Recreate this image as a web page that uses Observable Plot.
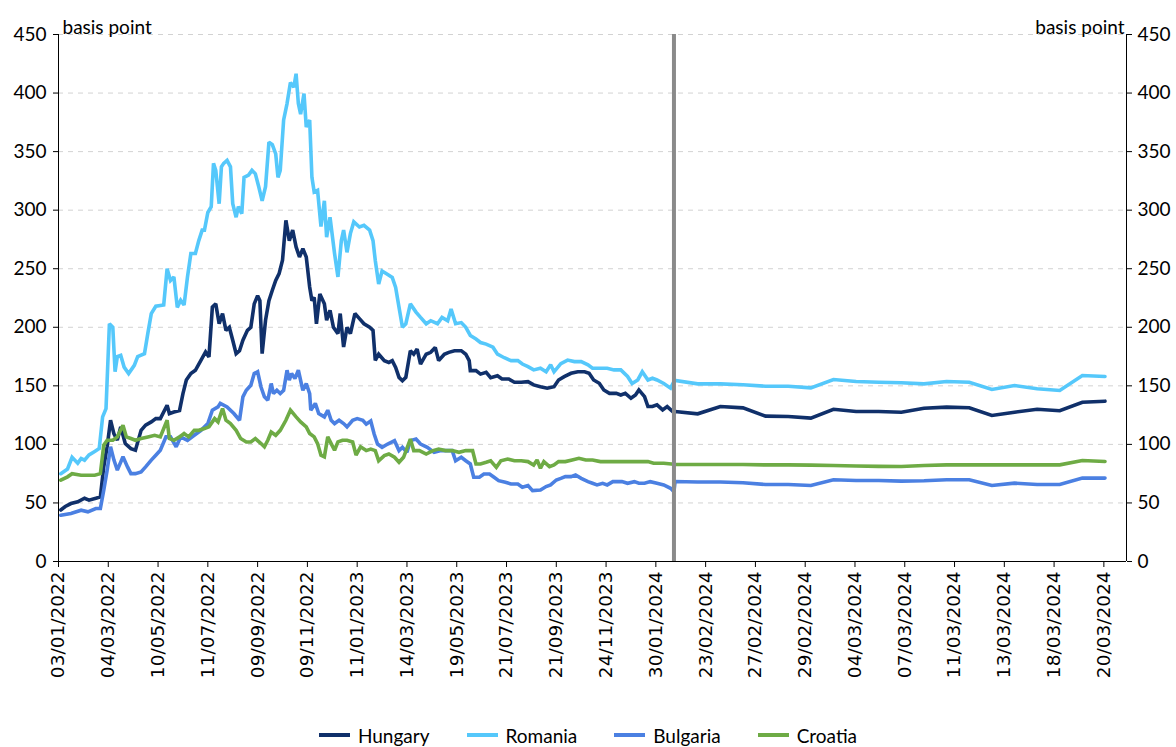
<!DOCTYPE html>
<html>
<head>
<meta charset="utf-8">
<script src="https://cdn.jsdelivr.net/npm/d3@7"></script>
<script src="https://cdn.jsdelivr.net/npm/@observablehq/plot@0.6"></script>
<style>
  html, body { margin: 0; padding: 0; background: #fff; }
  #chart { width: 1176px; }
  .legend { display: flex; justify-content: center; align-items: center; gap: 37px;
            font-family: Lato, "Open Sans", sans-serif; font-size: 19px; color: #000;
            height: 24px; padding-top: 8px; margin-left: 0px; }
  .legend .item { display: flex; align-items: center; gap: 8px; }
  .legend .sw { width: 31px; height: 4px; display: inline-block; }
</style>
</head>
<body>
<div id="chart"></div>
<script>
// ---- Series names & colours ----
const seriesNames = ["Hungary", "Romania", "Bulgaria", "Croatia"];
const seriesColors = ["#10306a", "#55c8fb", "#4b80e2", "#6eab45"];

// ---- X axis: business-day index positions of the tick labels ----
const tickDays = [0, 44, 88, 132, 176, 220, 264, 308, 352, 396, 440, 484, 528, 572, 616, 660, 704, 748, 792, 836, 880, 924];
const tickLabels = ["03/01/2022", "04/03/2022", "10/05/2022", "11/07/2022", "09/09/2022", "09/11/2022", "11/01/2023",
  "14/03/2023", "19/05/2023", "21/07/2023", "21/09/2023", "24/11/2023", "30/01/2024", "23/02/2024", "27/02/2024",
  "29/02/2024", "04/03/2024", "07/03/2024", "11/03/2024", "13/03/2024", "18/03/2024", "20/03/2024"];
const xMax = 944;
const dividerDay = 544;
const yTicks = [0, 50, 100, 150, 200, 250, 300, 350, 400, 450];

// ---- Daily history (day index, basis points) ----
const hungaryDaily = [[2,44],[6,47],[11,49.5],[17,51],[23,54],[27,52.4],[33,54],[37,55.2],[40,81],[43,98],[46,120.6],[49,109],[52,103.6],[55,115],[59,100.7],[64,96.4],[68,95],[73,112],[77,116.4],[82,119.2],[86,122],[90,122],[96,133.4],[98,126.3],[102,127.7],[107,129],[110,143.4],[113,155],[117,160.5],[121,163.3],[126,172],[130,179],[133,174.7],[136,217.3],[139,220],[142,203],[145,211.7],[148,197.4],[151,200],[154,188.9],[157,177.5],[160,180],[163,188.9],[167,197.4],[170,200],[173,220],[176,227],[178,222.7],[180,177.5],[183,206],[186,222.7],[189,231.6],[192,240],[195,245.8],[198,257.2],[201,291.3],[204,274],[207,283],[210,268.6],[213,260],[216,267],[219,260],[222,234.4],[224,222.7],[226,225.6],[228,203],[231,228.4],[235,220],[237,206],[240,214.5],[243,200],[247,194.6],[249,211.7],[252,183.2],[255,200],[258,194.6],[262,211.7],[266,207.4],[270,203],[275,200],[278,197.4],[280,171.8],[283,177],[288,171.5],[292,170],[295,171.5],[298,165.8],[301,157.2],[304,154.4],[307,157.2],[311,180],[314,177],[317,181.4],[320,168.6],[325,177],[329,178.6],[333,182.8],[336,171.5],[341,177],[345,178.6],[350,180],[356,180],[360,177],[363,171.5],[364,163],[369,163],[373,160],[378,161.5],[382,157],[388,158.6],[392,155.8],[398,155.8],[403,153],[409,153],[415,153.6],[420,150.8],[426,149.3],[432,148],[438,149.3],[442,155],[447,157.9],[453,160.7],[459,162],[465,162],[469,160.7],[473,155],[478,152.2],[482,146.5],[487,143.6],[493,143.6],[497,142.2],[501,143.6],[506,139.4],[510,142.2],[513,146.5],[518,140.8],[521,132.3],[525,132.3],[529,133.7],[534,129.4],[538,132.3],[543,128]];
const romaniaDaily = [[2,75],[8,79],[12,89],[17,84],[20,88],[23,86.5],[27,91],[32,94],[36,96.5],[39,123.5],[42,130.5],[45,203],[48,200],[50,162],[52,175],[55,176],[58,166],[62,160.5],[67,167.5],[70,175],[76,177.5],[79,195],[82,211.7],[86,218],[93,219],[96,250],[99,240],[102,243],[105,217],[108,223],[111,219],[114,243],[117,263],[121,263],[124,274],[127,283],[129,283],[132,298],[135,303],[137,340],[139,334],[142,305.5],[144,337],[146,340],[149,342.5],[152,337],[154,305.5],[157,294],[159,303],[162,297],[164,328],[168,330],[171,334],[174,331],[177,320],[180,308],[183,320],[186,358],[189,356],[192,348],[194,328],[196,334],[199,377],[202,391],[205,409],[208,405],[210,416.5],[212,391],[214,382],[217,399.5],[219,371],[222,377],[224,328],[226,315.5],[229,317],[232,286],[235,308],[237,277],[240,294],[244,263],[247,243],[250,274],[252,283],[255,264],[258,280],[261,290],[266,285.6],[270,287],[275,283],[278,274],[280,257],[283,237],[286,248],[291,245],[295,242.5],[298,234],[301,217],[304,200],[307,203],[311,220],[316,213],[320,208.4],[325,203],[329,205.6],[335,203],[339,208.4],[344,205.6],[347,215.5],[351,203],[356,204],[360,200],[364,193],[369,190],[373,187],[378,185.6],[384,183],[388,177],[394,174],[400,171.5],[406,171.5],[410,168.6],[415,166.4],[420,163.6],[426,165],[431,162],[435,168],[438,162],[444,169],[450,172],[456,170.7],[462,170.7],[468,168],[472,165],[479,165],[485,165],[491,163.6],[497,163.6],[503,158],[507,152],[512,155],[516,162],[521,155],[525,156.5],[529,155],[535,152],[541,148],[544,153.6]];
const bulgariaDaily = [[2,39.5],[11,41],[20,43.8],[26,42.4],[33,45.2],[37,45.2],[40,61],[43,78],[46,98],[49,86.6],[52,78],[57,89.4],[61,80.8],[64,75],[68,75],[73,76.5],[77,80.8],[82,86.6],[86,90.8],[90,95],[95,106.4],[99,106.4],[104,98],[108,106.4],[114,103.5],[120,107.8],[126,112],[132,117.8],[136,129.2],[141,132],[143,135],[149,132],[155,126.3],[160,120.6],[163,140.6],[166,146.2],[170,150.5],[173,160.5],[176,162],[179,149],[182,140.6],[185,137.7],[188,152],[190,143.4],[193,146.2],[196,143.4],[199,146.2],[202,163.3],[204,154.8],[206,160.5],[209,156.2],[212,163.3],[216,146.2],[219,152],[222,143.4],[223,129.2],[227,135],[230,126.3],[235,123.5],[238,129.2],[241,120.6],[244,117.8],[248,120.6],[252,117.8],[255,115],[260,120.6],[264,122],[269,120.6],[272,117.3],[276,120],[279,108.9],[282,100.3],[286,97.5],[291,100.3],[297,103.2],[301,94.7],[304,97.5],[308,93.2],[311,103.2],[316,104.6],[320,100.3],[326,97.5],[332,93.2],[338,94.7],[344,94.7],[348,94.7],[351,86],[356,89],[360,86],[364,83.3],[367,71.9],[372,71.9],[376,74.7],[381,74.7],[385,71.9],[389,69],[395,67.6],[400,66.2],[406,66.2],[410,63.4],[415,64.8],[419,60.5],[426,61.1],[431,64],[435,65.4],[440,69.6],[444,71],[448,72.5],[453,72.5],[457,73.9],[462,71],[468,68.2],[472,66.8],[476,65.4],[481,66.8],[485,65.4],[490,68.2],[494,68.2],[498,68.2],[503,66.8],[509,68.2],[513,66.8],[518,66.8],[523,68.2],[529,66.8],[535,65.4],[541,62.5],[544,59.7]];
const croatiaDaily = [[2,69.4],[8,72.3],[12,75],[20,73.7],[26,73.7],[32,73.7],[37,75],[40,99.3],[43,103.5],[48,103.5],[52,106.4],[57,116.4],[60,106.4],[64,105],[68,103.5],[73,105],[79,106.4],[85,107.8],[90,106.4],[96,120.6],[98,105],[102,103.5],[107,106.4],[111,109.3],[115,106.4],[120,112],[124,112],[129,113.5],[133,115],[138,122],[141,119.2],[145,130.6],[148,120.6],[152,117.8],[157,112],[161,105],[166,102.1],[170,102.1],[174,105],[179,100.7],[182,97.9],[185,103.5],[188,110.6],[192,107.8],[196,112],[201,120.6],[205,129.2],[210,123.5],[214,119.2],[219,115],[222,109.3],[226,106.4],[229,100.7],[232,90.8],[235,89.4],[238,106.4],[241,100.7],[244,95],[247,102.1],[251,103.5],[255,103.5],[260,102.1],[263,90.8],[267,97.9],[272,94.7],[276,96],[280,94.7],[283,86],[288,90.4],[292,91.8],[297,89],[301,84.7],[305,89],[311,104.6],[314,94.7],[319,94.7],[325,91.8],[331,94.7],[336,96],[342,94.7],[348,94.7],[354,93.2],[360,94.7],[366,94.7],[369,83.3],[373,83.3],[378,84.7],[382,86],[387,80.4],[391,86],[397,87.5],[403,86],[409,86],[415,85.3],[420,82.4],[423,86.7],[426,79.6],[429,85.3],[434,81],[438,82.4],[442,85.3],[448,85.3],[454,86.7],[460,88.1],[466,86.7],[472,86.7],[479,85.3],[488,85.3],[497,85.3],[506,85.3],[515,85.3],[521,85.3],[526,83.9],[535,83.9],[544,83]];

// ---- Recent period (each point one category block) ----
const recentDays = [545,565,585,605,625,645,665,685,705,725,745,765,785,805,825,845,865,885,905,925];
const hungaryRecent = [128.1,126.1,132.4,131.2,124.1,123.8,122.4,130,128.1,128.1,127.5,130.9,131.8,131.3,124.7,127.5,130,128.7,136,136.9];
const romaniaRecent = [154.6,151.7,151.7,150.9,149.7,149.7,148.3,155.4,153.7,153.1,152.6,151.7,153.7,153.1,146.9,150.3,147.5,146,158.8,158];
const bulgariaRecent = [68.3,67.9,67.9,67.3,65.7,65.7,64.9,69.8,69.2,69.2,68.6,68.9,69.8,69.8,64.9,66.9,65.7,65.7,71.2,71.2];
const croatiaRecent = [82.8,82.8,82.8,82.8,82.5,82.5,82.3,82,81.6,81.2,81.1,82,82.5,82.5,82.5,82.5,82.5,82.5,86.2,85.4];

// ---- Build long table ----
const dailyBySeries = [hungaryDaily, romaniaDaily, bulgariaDaily, croatiaDaily];
const recentBySeries = [hungaryRecent, romaniaRecent, bulgariaRecent, croatiaRecent];
const rows = [];
seriesNames.forEach((name, i) => {
  dailyBySeries[i].forEach(([day, value]) => rows.push({series: name, day, value}));
  recentBySeries[i].forEach((value, j) => rows.push({series: name, day: recentDays[j], value}));
});
const labelOf = new Map(tickDays.map((d, i) => [d, tickLabels[i]]));

const chart = Plot.plot({
  width: 1176,
  height: 715,
  marginLeft: 58,
  marginRight: 50,
  marginTop: 34,
  marginBottom: 154,
  style: {fontFamily: "Lato, 'Open Sans', sans-serif", fontSize: "19px", color: "#000", background: "#fff"},
  x: {type: "linear", domain: [0, xMax], axis: null},
  y: {domain: [0, 450], axis: null},
  color: {domain: seriesNames, range: seriesColors},
  marks: [
    Plot.gridY(yTicks.filter(d => d > 0), {stroke: "#d2d2d2", strokeOpacity: 1, strokeDasharray: "5,5", strokeWidth: 1}),
    Plot.line(rows, {x: "day", y: "value", z: "series", stroke: "series", strokeWidth: 3.6, curve: "linear", strokeLinejoin: "miter", strokeMiterlimit: 2}),
    Plot.ruleX([dividerDay], {stroke: "#8a8a8a", strokeWidth: 4}),
    Plot.ruleX([0, xMax], {stroke: "#000", strokeWidth: 1}),
    Plot.ruleY([0], {stroke: "#000", strokeWidth: 1}),
    Plot.axisY({anchor: "left", ticks: yTicks, tickSize: 5, tickPadding: 7, label: null, fontSize: 19, fontFamily: "Lato, sans-serif"}),
    Plot.axisY({anchor: "right", ticks: yTicks, tickSize: 5, tickPadding: 6, label: null, fontSize: 19, fontFamily: "Lato, sans-serif"}),
    Plot.axisX({ticks: tickDays, tickFormat: d => labelOf.get(d), tickRotate: -90, tickSize: 6, tickPadding: 4,
                label: null, fontSize: 18.5, fontFamily: "'DejaVu Sans', sans-serif"}),
    Plot.text(["basis point"], {frameAnchor: "top-left", dx: 4, dy: -14, textAnchor: "start", fontSize: 19}),
    Plot.text(["basis point"], {frameAnchor: "top-right", dx: -2, dy: -14, textAnchor: "end", fontSize: 19})
  ]
});
document.getElementById("chart").appendChild(chart);

// ---- Legend ----
const legend = document.createElement("div");
legend.className = "legend";
seriesNames.forEach((name, i) => {
  const item = document.createElement("span");
  item.className = "item";
  const sw = document.createElement("span");
  sw.className = "sw";
  sw.style.background = seriesColors[i];
  const t = document.createElement("span");
  t.textContent = name;
  item.appendChild(sw);
  item.appendChild(t);
  legend.appendChild(item);
});
document.getElementById("chart").appendChild(legend);
</script>
</body>
</html>
